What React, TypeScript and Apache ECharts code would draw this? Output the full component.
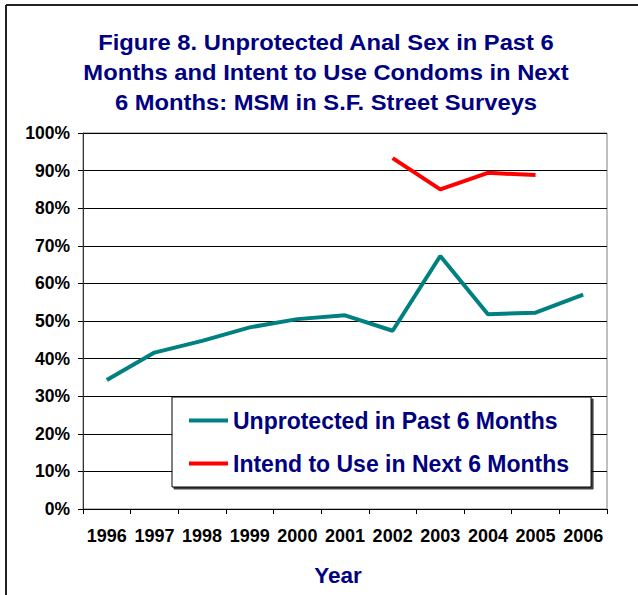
import React, { useEffect, useRef } from "react";
import * as echarts from "echarts";

const years = ["1996", "1997", "1998", "1999", "2000", "2001", "2002", "2003", "2004", "2005", "2006"];
const unprotected = [34.3, 41.6, 44.7, 48.3, 50.5, 51.5, 47.4, 67.3, 51.8, 52.2, 57.0];
const intend = [null, null, null, null, null, null, 93.3, 85.0, 89.4, 88.8, null];
const titleLines = [
  "Figure 8. Unprotected Anal Sex in Past 6",
  "Months and Intent to Use Condoms in Next",
  "6 Months: MSM in S.F. Street Surveys",
];
const seriesNames = ["Unprotected in Past 6 Months", "Intend to Use in Next 6 Months"];

const FONT = '"Liberation Sans", Arial, sans-serif';
const NAVY = "#000080";

export default function App() {
  const ref = useRef<HTMLDivElement>(null);
  useEffect(() => {
    document.body.style.margin = "0";
    const chart = echarts.init(ref.current!, null, { renderer: "svg" });
    chart.setOption({
      animation: false,
      backgroundColor: "#fff",
      graphic: [
        { type: "line", shape: { x1: 6, y1: 5, x2: 638, y2: 5 }, style: { stroke: "#222", lineWidth: 2 } },
        { type: "line", shape: { x1: 6, y1: 5, x2: 6, y2: 595 }, style: { stroke: "#222", lineWidth: 2 } },
        {
          type: "text",
          x: 326,
          y: 27,
          scaleX: 1.08,
          style: {
            text: titleLines.join("\n"),
            font: `bold 22px ${FONT}`,
            fill: NAVY,
            align: "center",
            verticalAlign: "top",
            lineHeight: 30,
          },
        },
      ],
      grid: { left: 83, right: 31, top: 133, bottom: 86, show: true, borderColor: "#808080", borderWidth: 1 },
      legend: {
        orient: "vertical",
        left: 172,
        top: 397,
        itemWidth: 39,
        itemHeight: 4,
        itemGap: 20,
        icon: "rect",
        padding: [12, 22, 12, 17],
        borderColor: "#000",
        borderWidth: 1,
        backgroundColor: "#fff",
        shadowColor: "rgba(0,0,0,0.75)",
        shadowBlur: 1,
        shadowOffsetX: 2,
        shadowOffsetY: 2,
        textStyle: { color: NAVY, fontWeight: "bold", fontSize: 23, fontFamily: FONT },
        data: seriesNames,
      },
      xAxis: {
        type: "category",
        data: years,
        boundaryGap: true,
        name: "Year",
        nameLocation: "middle",
        nameGap: 55,
        nameTextStyle: { color: NAVY, fontWeight: "bold", fontSize: 22.5, fontFamily: FONT, padding: [0, 14, 0, 0] },
        axisLine: { lineStyle: { color: "#000", width: 1 } },
        axisTick: { show: true, length: 5, lineStyle: { color: "#000" } },
        axisLabel: { color: "#000", fontWeight: "bold", fontSize: 18, fontFamily: FONT, margin: 18, interval: 0 },
        splitLine: { show: false },
      },
      yAxis: {
        type: "value",
        min: 0,
        max: 100,
        interval: 10,
        axisLine: { show: true, lineStyle: { color: "#333", width: 1 } },
        axisTick: { show: true, length: 5, lineStyle: { color: "#000" } },
        axisLabel: { color: "#000", fontWeight: "bold", fontSize: 17.5, fontFamily: FONT, margin: 13, formatter: "{value}%" },
        splitLine: { show: true, lineStyle: { color: "#000", width: 1 } },
      },
      series: [
        {
          name: seriesNames[0],
          type: "line",
          data: unprotected,
          symbol: "none",
          color: "#008080",
          lineStyle: { color: "#008080", width: 4 },
        },
        {
          name: seriesNames[1],
          type: "line",
          data: intend,
          symbol: "none",
          color: "#ff0000",
          lineStyle: { color: "#ff0000", width: 4 },
        },
      ],
    });
    return () => chart.dispose();
  }, []);
  return <div ref={ref} style={{ width: 638, height: 595 }} />;
}
